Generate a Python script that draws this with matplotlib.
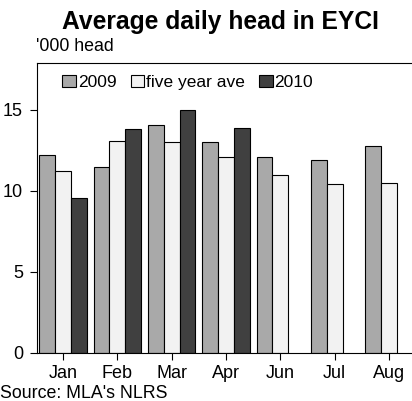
import numpy as np
import matplotlib
matplotlib.use("Agg")
import matplotlib.pyplot as plt

plt.rcParams['font.family'] = ['Liberation Sans', 'DejaVu Sans']

months = ['Jan', 'Feb', 'Mar', 'Apr', 'Jun', 'Jul', 'Aug']
y2009 = [12.2, 11.5, 14.1, 13.0, 12.1, 11.9, 12.8]
five_year_ave = [11.25, 13.1, 13.0, 12.1, 11.0, 10.4, 10.5]
y2010 = [9.55, 13.8, 15.0, 13.9, np.nan, np.nan, np.nan]

fig = plt.figure(figsize=(4.12, 4.01), dpi=100)
# right edge runs past the figure, the chart box is open on that side
ax = fig.add_axes([0.0898, 0.12, 0.92, 0.723])

x = np.arange(len(months))
w = 0.29
kw = dict(edgecolor='black', linewidth=0.8)
ax.bar(x - w, y2009, w, color='#a9a9a9', label='2009', **kw)
ax.bar(x, five_year_ave, w, color='#f2f2f2', label='five year ave', **kw)
ax.bar(x + w, y2010, w, color='#404040', label='2010', **kw)

ax.set_xlim(-0.478, 6.498)
ax.set_ylim(0, 17.9)
ax.set_yticks([0, 5, 10, 15])
ax.set_xticks(x)
ax.set_xticklabels(months)
ax.tick_params(axis='both', labelsize=13, length=5, width=0.8, direction='out')
ax.tick_params(axis='x', pad=4)
ax.tick_params(axis='y', pad=5)
for s in ax.spines.values():
    s.set_linewidth(0.8)
ax.spines['right'].set_visible(False)

ax.legend(loc='upper left', ncol=3, frameon=False, fontsize=12.5,
          handlelength=0.8, handleheight=0.65, handletextpad=0.1,
          columnspacing=0.8, borderaxespad=0.3, bbox_to_anchor=(0.035, 1.0))

fig.text(0.535, 0.945, 'Average daily head in EYCI', ha='center', va='center',
         fontsize=17.7, fontweight='bold')
fig.text(0.088, 0.883, "'000 head", ha='left', va='center', fontsize=12.8)
fig.text(0.0, 0.018, "Source: MLA's NLRS", ha='left', va='center', fontsize=12.8)

fig.savefig('out.png', dpi=100)
